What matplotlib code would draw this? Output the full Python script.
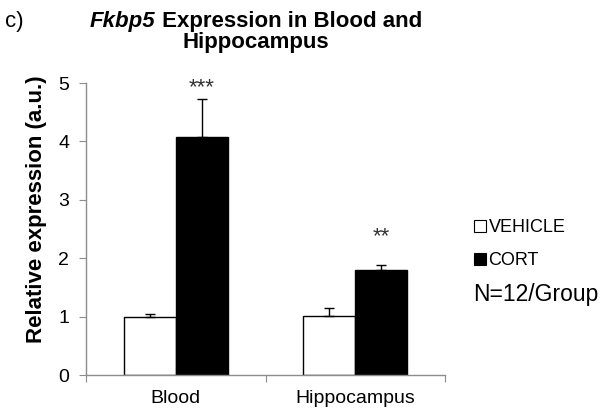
import numpy as np
import matplotlib.pyplot as plt
from matplotlib.patches import Patch

plt.rcParams['font.family'] = ['Liberation Sans', 'DejaVu Sans']

#%% Data
tissues = ['Blood', 'Hippocampus']
groups = ['VEHICLE', 'CORT']
vehicle_mean = [1.00, 1.01]
vehicle_sem = [0.05, 0.14]
cort_mean = [4.08, 1.80]
cort_sem = [0.65, 0.08]
stars = ['***', '**']
star_y = [4.83, 2.28]   # baseline of the asterisks

#%% Plot
W, H = 604, 415
fig = plt.figure(figsize=(W / 100, H / 100), dpi=100)
ax = fig.add_axes([86 / W, (H - 375) / H, 359 / W, 292 / H])

x = np.arange(len(tissues))
width = 0.29
axis_grey = '#8c8c8c'

ax.bar(x - width / 2, vehicle_mean, width, color='white', edgecolor='black', lw=1.0,
       yerr=[np.zeros(len(x)), vehicle_sem], capsize=3.3,
       error_kw=dict(ecolor='black', elinewidth=1.0, capthick=1.0), label=groups[0], zorder=2)
ax.bar(x + width / 2, cort_mean, width, color='black', edgecolor='black', lw=1.0,
       yerr=[np.zeros(len(x)), cort_sem], capsize=3.3,
       error_kw=dict(ecolor='black', elinewidth=1.0, capthick=1.0), label=groups[1], zorder=2)

for xi, s, sy in zip(x, stars, star_y):
    ax.text(xi + width / 2, sy, s, ha='center', va='baseline', fontsize=16, color='#333333')

ax.set_xlim(-0.5, 1.5)
ax.set_ylim(0, 5)
ax.set_yticks(range(6))
ax.set_xticks([-0.5, 0.5, 1.5])
ax.set_xticklabels([])
ax.set_xticks(x, minor=True)
ax.set_xticklabels(tissues, minor=True, fontsize=14)
ax.tick_params(axis='x', which='minor', length=0, pad=11)
ax.tick_params(axis='x', which='major', length=5, color=axis_grey, direction='out')
ax.tick_params(axis='y', length=5, color=axis_grey, labelsize=14, pad=7)
for side in ['top', 'right']:
    ax.spines[side].set_visible(False)
for side in ['left', 'bottom']:
    ax.spines[side].set_color(axis_grey)
    ax.spines[side].set_linewidth(1.0)

fig.text(37 / W, 1 - 209 / H, 'Relative expression (a.u.)', rotation=90,
         ha='center', va='center', fontsize=16, fontweight='bold')

# Title: italic gene name followed by bold text, centred on x = 256 px
t1 = fig.text(0, 1 - 27 / H, 'Fkbp5', fontsize=16, fontweight='bold', style='italic',
              va='baseline')
t2 = fig.text(0, 1 - 27 / H, ' Expression in Blood and', fontsize=16, fontweight='bold',
              va='baseline')
fig.text(256 / W, 1 - 48 / H, 'Hippocampus', fontsize=16, fontweight='bold',
         ha='center', va='baseline')
renderer = fig.canvas.get_renderer()
w1 = t1.get_window_extent(renderer).width
w2 = t2.get_window_extent(renderer).width
x0 = 256 - (w1 + w2) / 2
t1.set_x(x0 / W)
t2.set_x((x0 + w1) / W)

fig.text(5 / W, 1 - 27 / H, 'c)', fontsize=16, va='baseline')

handles = [Patch(facecolor='white', edgecolor='black', lw=0.8),
           Patch(facecolor='black', edgecolor='black', lw=0.8)]
fig.legend(handles, groups, loc='upper left', bbox_to_anchor=(474 / W, 1 - 219 / H),
           frameon=False, fontsize=13, handlelength=0.65, handleheight=0.65,
           handletextpad=0.15, labelspacing=0.9, borderpad=0, borderaxespad=0)
fig.text(473 / W, 1 - 301 / H, 'N=12/Group', fontsize=16.5, va='baseline')

plt.savefig('out.png', dpi=100)
